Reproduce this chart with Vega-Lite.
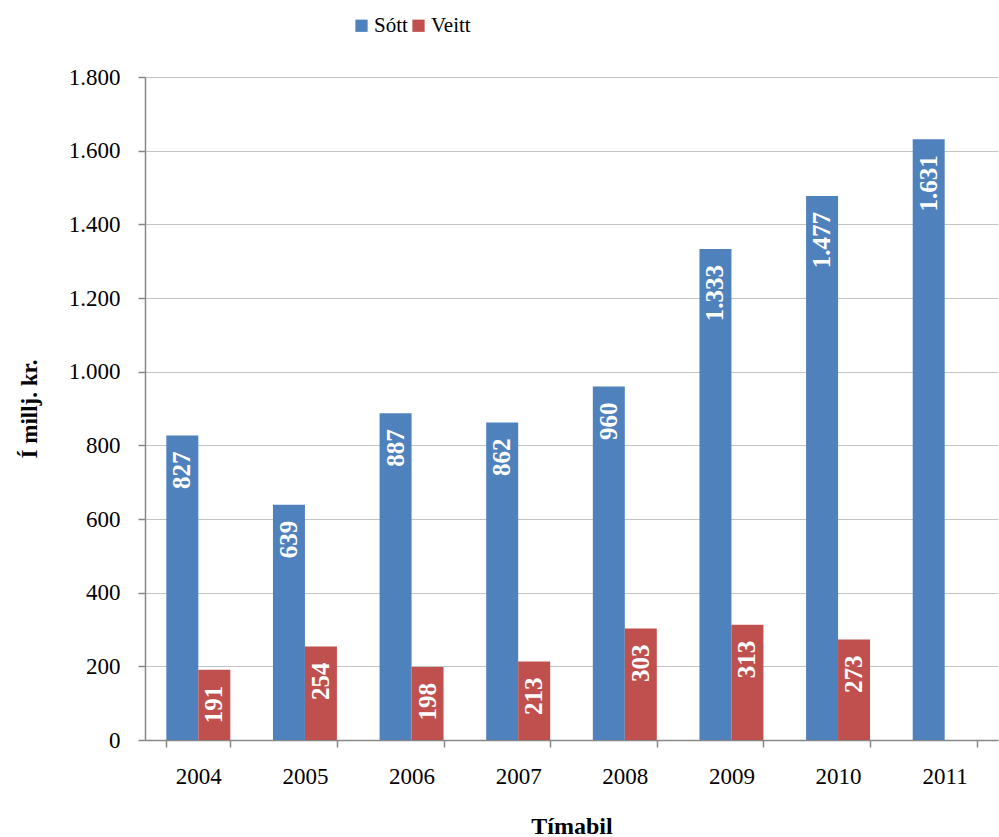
{
  "$schema": "https://vega.github.io/schema/vega-lite/v6.json",
  "autosize": {"type": "none"},
  "padding": {"left": 145, "top": 77, "right": 1, "bottom": 97},
  "width": 853,
  "height": 663,
  "data": {
    "values": [
      {"ar": "2004", "flokkur": "Sótt", "upphaed": 827},
      {"ar": "2004", "flokkur": "Veitt", "upphaed": 191},
      {"ar": "2005", "flokkur": "Sótt", "upphaed": 639},
      {"ar": "2005", "flokkur": "Veitt", "upphaed": 254},
      {"ar": "2006", "flokkur": "Sótt", "upphaed": 887},
      {"ar": "2006", "flokkur": "Veitt", "upphaed": 198},
      {"ar": "2007", "flokkur": "Sótt", "upphaed": 862},
      {"ar": "2007", "flokkur": "Veitt", "upphaed": 213},
      {"ar": "2008", "flokkur": "Sótt", "upphaed": 960},
      {"ar": "2008", "flokkur": "Veitt", "upphaed": 303},
      {"ar": "2009", "flokkur": "Sótt", "upphaed": 1333},
      {"ar": "2009", "flokkur": "Veitt", "upphaed": 313},
      {"ar": "2010", "flokkur": "Sótt", "upphaed": 1477},
      {"ar": "2010", "flokkur": "Veitt", "upphaed": 273},
      {"ar": "2011", "flokkur": "Sótt", "upphaed": 1631}
    ]
  },
  "config": {
    "locale": {
      "number": {"decimal": ",", "thousands": ".", "grouping": [3], "currency": ["", " kr."]}
    },
    "font": "Liberation Serif",
    "view": {"stroke": null},
    "axis": {
      "labelFont": "Liberation Serif",
      "labelFontSize": 23,
      "labelColor": "#000000",
      "titleFont": "Liberation Serif",
      "titleFontSize": 23,
      "titleFontWeight": "bold",
      "titleColor": "#000000",
      "domainColor": "#888888",
      "domainWidth": 1.5,
      "tickColor": "#888888",
      "tickWidth": 1.5,
      "tickSize": 7
    }
  },
  "encoding": {
    "x": {
      "field": "ar",
      "type": "nominal",
      "title": "Tímabil",
      "scale": {"paddingInner": 0.4, "paddingOuter": 0.2},
      "axis": {"labelAngle": 0, "labelPadding": 18, "tickBand": "extent", "titlePadding": 26, "titleFontSize": 24, "grid": false}
    },
    "xOffset": {"field": "flokkur", "type": "nominal", "scale": {"domain": ["Sótt", "Veitt"]}},
    "y": {
      "field": "upphaed",
      "type": "quantitative",
      "title": "Í millj. kr.",
      "scale": {"domain": [0, 1800]},
      "axis": {
        "values": [0, 200, 400, 600, 800, 1000, 1200, 1400, 1600, 1800],
        "format": ",d",
        "labelPadding": 18,
        "titlePadding": 27,
        "gridColor": "#c4c4c4",
        "gridWidth": 1.2
      }
    }
  },
  "layer": [
    {
      "mark": {"type": "bar"},
      "encoding": {
        "color": {
          "field": "flokkur",
          "type": "nominal",
          "title": null,
          "scale": {"domain": ["Sótt", "Veitt"], "range": ["#4F81BD", "#C0504D"]},
          "legend": {
            "orient": "none",
            "direction": "horizontal",
            "legendX": 206,
            "legendY": -62,
            "symbolType": "square",
            "symbolSize": 150,
            "symbolStrokeWidth": 0,
            "labelFont": "Liberation Serif",
            "labelFontSize": 21,
            "labelColor": "#000000",
            "labelOffset": 2,
            "columnPadding": 0
          }
        }
      }
    },
    {
      "mark": {
        "type": "text",
        "angle": 270,
        "align": "right",
        "baseline": "middle",
        "dx": -16,
        "color": "#ffffff",
        "fontWeight": "bold",
        "fontSize": 25,
        "font": "Liberation Serif"
      },
      "encoding": {
        "text": {"field": "upphaed", "type": "quantitative", "format": ",d"}
      }
    }
  ]
}
